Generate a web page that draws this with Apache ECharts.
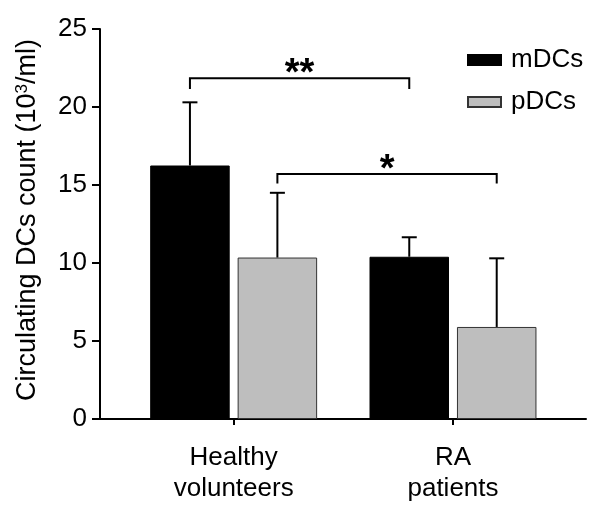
<!DOCTYPE html>
<html>
<head>
<meta charset="utf-8">
<script src="https://cdn.jsdelivr.net/npm/echarts@6/dist/echarts.min.js"></script>
<style>html,body{margin:0;padding:0;background:#fff;}#c{width:600px;height:518px;}</style>
</head>
<body>
<div id="c"></div>
<script>
var categories = ['Healthy\nvolunteers', 'RA\npatients'];
var seriesNames = ['mDCs', 'pDCs'];
var mDCs = [16.25, 10.4];
var pDCs = [10.35, 5.9];
var mDCsErrTop = [20.3, 11.65];
var pDCsErrTop = [14.5, 10.3];
var yTicks = [0, 5, 10, 15, 20, 25];
// significance brackets: [groupA, barA, groupB, barB, lineValue, legValue, label]
var brackets = [
  [0, 0, 1, 0, 21.85, 21.15, '**'],
  [0, 1, 1, 1, 15.7, 15.1, '*']
];

var FONT = '"Liberation Sans", Arial, Helvetica, sans-serif';
var BAR_W = 79.5;
var BAR_GAP = 0.1;
var OFFSET = (BAR_W + BAR_W * BAR_GAP) / 2;
var barOffsets = [-OFFSET, OFFSET];

function errData(vals, tops) {
  return vals.map(function (v, i) { return [i, v, tops[i]]; });
}

function errRender(barIdx) {
  return function (params, api) {
    var base = api.coord([api.value(0), api.value(1)]);
    var top = api.coord([api.value(0), api.value(2)]);
    var x = base[0] + barOffsets[barIdx];
    var half = 7.5;
    return {
      type: 'group',
      children: [
        { type: 'line', shape: { x1: x, y1: base[1], x2: x, y2: top[1] }, style: { stroke: '#000', lineWidth: 2 } },
        { type: 'line', shape: { x1: x - half, y1: top[1], x2: x + half, y2: top[1] }, style: { stroke: '#000', lineWidth: 2 } }
      ]
    };
  };
}

function bracketRender(params, api) {
  var a = api.coord([api.value(0), api.value(4)]);
  var b = api.coord([api.value(2), api.value(4)]);
  var leg = api.coord([api.value(0), api.value(5)]);
  var xa = a[0] + barOffsets[api.value(1)];
  var xb = b[0] + barOffsets[api.value(3)];
  var y = a[1];
  var yl = leg[1];
  var label = brackets[params.dataIndex][6];
  return {
    type: 'group',
    children: [
      { type: 'polyline', shape: { points: [[xa, yl], [xa, y], [xb, y], [xb, yl]] }, style: { stroke: '#000', lineWidth: 2, fill: null } },
      { type: 'text', x: (xa + xb) / 2, y: y + 15, style: { text: label, font: 'bold 38px ' + FONT, fill: '#000', align: 'center', verticalAlign: 'bottom' } }
    ]
  };
}

var chart = echarts.init(document.getElementById('c'), null, { renderer: 'canvas' });
chart.setOption({
  animation: false,
  backgroundColor: '#fff',
  textStyle: { fontFamily: FONT },
  grid: [
    { left: 124, right: 37.35, top: 29, bottom: 99 },
    { left: 100, right: 14, top: 29, bottom: 99 }
  ],
  legend: {
    orient: 'vertical',
    left: 462,
    top: 42,
    itemWidth: 33,
    itemHeight: 10,
    itemGap: 16,
    icon: 'rect',
    data: seriesNames,
    textStyle: { fontSize: 26, color: '#000', fontFamily: FONT, padding: [0, 0, 0, 5] }
  },
  xAxis: [
    {
      type: 'category',
      gridIndex: 0,
      data: categories,
      axisLine: { show: true, lineStyle: { color: '#000', width: 2 } },
      axisTick: { show: true, alignWithLabel: true, length: 6, lineStyle: { color: '#000', width: 2 } },
      axisLabel: { color: '#000', fontSize: 26, lineHeight: 31, margin: 23, fontFamily: FONT },
      splitLine: { show: false }
    },
    {
      type: 'value',
      gridIndex: 1,
      min: 0, max: 1,
      axisLine: { show: true, onZero: false, lineStyle: { color: '#000', width: 2 } },
      axisTick: { show: false },
      axisLabel: { show: false },
      splitLine: { show: false }
    }
  ],
  yAxis: [
    {
      type: 'value',
      gridIndex: 0,
      min: yTicks[0],
      max: yTicks[yTicks.length - 1],
      interval: yTicks[1] - yTicks[0],
      offset: 24,
      axisLine: { show: true, lineStyle: { color: '#000', width: 2 } },
      axisTick: { show: true, length: 8, lineStyle: { color: '#000', width: 2 } },
      axisLabel: { color: '#000', fontSize: 26, margin: 13, fontFamily: FONT },
      splitLine: { show: false },
      name: 'Circulating DCs count (10{sup|3}/ml)',
      nameLocation: 'middle',
      nameGap: 59,
      nameTextStyle: {
        color: '#000', fontSize: 27, fontFamily: FONT,
        padding: [0, 0, 0, 8],
        rich: { sup: { fontSize: 17, verticalAlign: 'top', color: '#000', fontFamily: FONT, padding: [0, 0, 10, 0] } }
      }
    },
    { type: 'value', gridIndex: 1, show: false, min: 0, max: 1 }
  ],
  series: [
    {
      name: seriesNames[0], type: 'bar', xAxisIndex: 0, yAxisIndex: 0,
      data: mDCs, barWidth: BAR_W, barGap: (BAR_GAP * 100) + '%',
      itemStyle: { color: '#000', borderColor: '#000', borderWidth: 1 }
    },
    {
      name: seriesNames[1], type: 'bar', xAxisIndex: 0, yAxisIndex: 0,
      data: pDCs, barWidth: BAR_W, barGap: (BAR_GAP * 100) + '%',
      itemStyle: { color: '#bebebe', borderColor: '#333', borderWidth: 1 }
    },
    {
      type: 'custom', xAxisIndex: 0, yAxisIndex: 0, z: 3,
      data: errData(mDCs, mDCsErrTop), renderItem: errRender(0)
    },
    {
      type: 'custom', xAxisIndex: 0, yAxisIndex: 0, z: 3,
      data: errData(pDCs, pDCsErrTop), renderItem: errRender(1)
    },
    {
      type: 'custom', xAxisIndex: 0, yAxisIndex: 0, z: 3,
      data: brackets.map(function (b) { return [b[0], b[1], b[2], b[3], b[4], b[5]]; }),
      renderItem: bracketRender
    }
  ]
});
</script>
</body>
</html>
